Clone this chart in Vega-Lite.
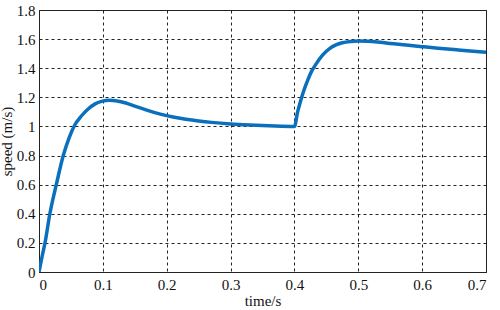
{
  "$schema": "https://vega.github.io/schema/vega-lite/v6.json",
  "autosize": "none",
  "padding": {"left": 39, "top": 10, "right": 14, "bottom": 39},
  "width": 447,
  "height": 262,
  "background": "white",
  "config": {
    "font": "Liberation Serif",
    "view": {"stroke": "#222", "strokeWidth": 1},
    "axis": {
      "labelFont": "Liberation Serif",
      "titleFont": "Liberation Serif",
      "labelFontSize": 15,
      "titleFontSize": 15,
      "titleFontWeight": "normal",
      "labelColor": "#111",
      "titleColor": "#111",
      "grid": true,
      "gridColor": "#222",
      "gridDash": [3, 3],
      "gridWidth": 1,
      "gridOpacity": 1,
      "domainColor": "#222",
      "ticks": false
    }
  },
  "data": {
    "values": [
      {"t": 0, "v": 0},
      {"t": 0.005, "v": 0.11},
      {"t": 0.0094, "v": 0.2},
      {"t": 0.017, "v": 0.4},
      {"t": 0.0276, "v": 0.61},
      {"t": 0.038, "v": 0.8},
      {"t": 0.047, "v": 0.92},
      {"t": 0.056, "v": 1.01},
      {"t": 0.066, "v": 1.07},
      {"t": 0.077, "v": 1.12},
      {"t": 0.088, "v": 1.155},
      {"t": 0.098, "v": 1.172},
      {"t": 0.11, "v": 1.18},
      {"t": 0.12, "v": 1.177},
      {"t": 0.13, "v": 1.168},
      {"t": 0.15, "v": 1.14},
      {"t": 0.17, "v": 1.11},
      {"t": 0.19, "v": 1.085},
      {"t": 0.21, "v": 1.065},
      {"t": 0.23, "v": 1.05},
      {"t": 0.25, "v": 1.038},
      {"t": 0.27, "v": 1.028},
      {"t": 0.3, "v": 1.017},
      {"t": 0.33, "v": 1.01},
      {"t": 0.36, "v": 1.005},
      {"t": 0.4, "v": 1.0},
      {"t": 0.405, "v": 1.1},
      {"t": 0.41, "v": 1.18},
      {"t": 0.415, "v": 1.25},
      {"t": 0.421, "v": 1.32},
      {"t": 0.427, "v": 1.38},
      {"t": 0.434, "v": 1.43},
      {"t": 0.444, "v": 1.49},
      {"t": 0.455, "v": 1.535},
      {"t": 0.465, "v": 1.56},
      {"t": 0.475, "v": 1.575},
      {"t": 0.488, "v": 1.584},
      {"t": 0.5, "v": 1.587},
      {"t": 0.515, "v": 1.585},
      {"t": 0.53, "v": 1.58},
      {"t": 0.55, "v": 1.57},
      {"t": 0.575, "v": 1.56},
      {"t": 0.6, "v": 1.548},
      {"t": 0.625, "v": 1.537},
      {"t": 0.65, "v": 1.528},
      {"t": 0.675, "v": 1.518},
      {"t": 0.7, "v": 1.51}
    ]
  },
  "mark": {"type": "line", "color": "#0a70be", "strokeWidth": 3.5, "interpolate": "monotone", "clip": true},
  "encoding": {
    "x": {
      "field": "t",
      "type": "quantitative",
      "title": "time/s",
      "scale": {"domain": [0, 0.7], "nice": false, "zero": false},
      "axis": {"values": [0, 0.1, 0.2, 0.3, 0.4, 0.5, 0.6, 0.7], "format": "~g", "labelPadding": 5, "titlePadding": 1}
    },
    "y": {
      "field": "v",
      "type": "quantitative",
      "title": "speed (m/s)",
      "scale": {"domain": [0, 1.8], "nice": false},
      "axis": {"values": [0, 0.2, 0.4, 0.6, 0.8, 1, 1.2, 1.4, 1.6, 1.8], "format": "~g", "labelPadding": 4, "titlePadding": 2}
    }
  }
}
